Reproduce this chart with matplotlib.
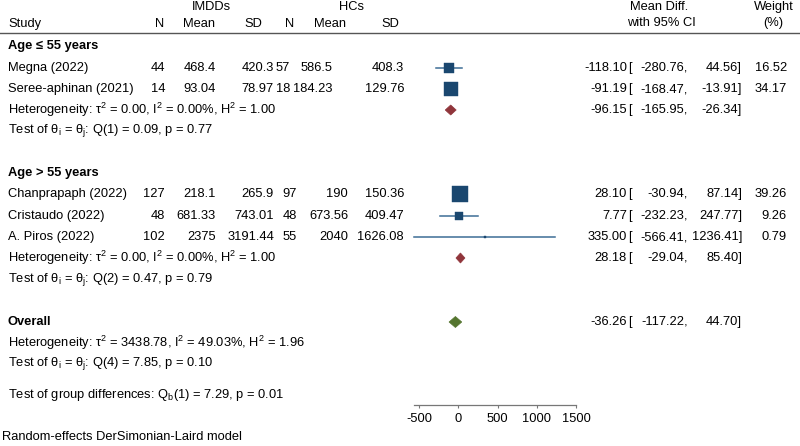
import matplotlib
matplotlib.use("Agg")
import matplotlib.pyplot as plt
import numpy as np

plt.rcParams['font.family'] = ['Liberation Sans', 'DejaVu Sans']
plt.rcParams['mathtext.fontset'] = 'custom'
plt.rcParams['mathtext.rm'] = 'Liberation Sans'
plt.rcParams['mathtext.it'] = 'Liberation Sans'

# ---------------- data ----------------
studies = ["Megna (2022)", "Seree-aphinan (2021)",
           "Chanprapaph (2022)", "Cristaudo (2022)", "A. Piros (2022)"]
study_group = [0, 0, 1, 1, 1]
n_imdd = [44, 14, 127, 48, 102]
mean_imdd = [468.4, 93.04, 218.1, 681.33, 2375]
sd_imdd = [420.3, 78.97, 265.9, 743.01, 3191.44]
n_hc = [57, 18, 97, 48, 55]
mean_hc = [586.5, 184.23, 190, 673.56, 2040]
sd_hc = [408.3, 129.76, 150.36, 409.47, 1626.08]
effect = [-118.10, -91.19, 28.10, 7.77, 335.00]
ci_low = [-280.76, -168.47, -30.94, -232.23, -566.41]
ci_high = [44.56, -13.91, 87.14, 247.77, 1236.41]
weight = [16.52, 34.17, 39.26, 9.26, 0.79]

group_labels = ["Age \u2264 55 years", "Age > 55 years"]
group_effect = [-96.15, 28.18]
group_low = [-165.95, -29.04]
group_high = [-26.34, 85.40]
group_het = [r"Heterogeneity: τ$^\mathregular{2}$ = 0.00, I$^\mathregular{2}$ = 0.00%, H$^\mathregular{2}$ = 1.00",
             r"Heterogeneity: τ$^\mathregular{2}$ = 0.00, I$^\mathregular{2}$ = 0.00%, H$^\mathregular{2}$ = 1.00"]
group_test = [r"Test of θ$_\mathregular{i}$ = θ$_\mathregular{j}$: Q(1) = 0.09, p = 0.77",
              r"Test of θ$_\mathregular{i}$ = θ$_\mathregular{j}$: Q(2) = 0.47, p = 0.79"]

overall_effect = -36.26
overall_low = -117.22
overall_high = 44.70
overall_het = r"Heterogeneity: τ$^\mathregular{2}$ = 3438.78, I$^\mathregular{2}$ = 49.03%, H$^\mathregular{2}$ = 1.96"
overall_test = r"Test of θ$_\mathregular{i}$ = θ$_\mathregular{j}$: Q(4) = 7.85, p = 0.10"
group_diff_test = r"Test of group differences: Q$_\mathregular{b}$(1) = 7.29, p = 0.01"
footnote = "Random-effects DerSimonian-Laird model"

xticks = [-500, 0, 500, 1000, 1500]

# ---------------- layout (pixel coordinates) ----------------
W, H = 800, 446
FS = 9.3
navy = "#1a476f"
ci_col = "#3d6d96"
maroon = "#90353b"
green = "#55752f"

fig = plt.figure(figsize=(W / 100, H / 100), dpi=100)
ax = fig.add_axes([0, 0, 1, 1])
ax.set_xlim(0, W)
ax.set_ylim(H, 0)
ax.axis("off")

# forest axes: pixel x 400..600 maps to data
px_per_unit = 157 / 2000
zero_px = 458.25
fx0, fx1 = 400, 600
fax = fig.add_axes([fx0 / W, 0, (fx1 - fx0) / W, 1])
fax.set_xlim((fx0 - zero_px) / px_per_unit, (fx1 - zero_px) / px_per_unit)
fax.set_ylim(H, 0)
fax.patch.set_visible(False)
for s in ["top", "left", "right"]:
    fax.spines[s].set_visible(False)
fax.spines["bottom"].set_position(("data", 405))
fax.spines["bottom"].set_bounds(min(ci_low), max(xticks))
fax.spines["bottom"].set_color("#777777")
fax.spines["bottom"].set_linewidth(0.9)
fax.set_yticks([])
fax.set_xticks(xticks)
fax.set_xticklabels([str(t) for t in xticks])
fax.tick_params(axis="x", direction="out", length=2.5, width=0.8, color="#777777",
                labelsize=FS, pad=3.2)

def txt(x, y, s, ha="left", bold=False, **kw):
    ax.text(x, y, s, ha=ha, va="center", fontsize=FS,
            fontweight="bold" if bold else "normal", **kw)

# headers
txt(211, 7, "IMDDs", ha="center")
txt(352, 7, "HCs", ha="center")
txt(659, 7, "Mean Diff.", ha="center")
txt(661, 23, "with 95% CI", ha="center")
txt(774, 7, "Weight", ha="center")
txt(773, 23, "(%)", ha="center")
txt(8, 24, "Study")
for hx, hs in [(160, "N"), (199, "Mean"), (253, "SD"), (290, "N"), (330, "Mean"), (390, "SD")]:
    txt(hx, 24, hs, ha="center")
ax.plot([0, W], [32.5, 32.5], color="#555555", lw=1.0)

# column positions (right edges), per group where the original differs
col_n1, col_m1, col_s1, col_s2 = 165, 216, 274, 404
col_n2 = [290, 297]
col_m2 = [333, 348]
col_eff, col_br, col_lo, col_hi, col_w = 627, 628, 688, 742, 787

def ci_text(y, e, lo, hi, w=None):
    txt(col_eff, y, f"{e:.2f}", ha="right")
    txt(col_br, y, "[")
    txt(col_lo, y, f"{lo:.2f},", ha="right")
    txt(col_hi, y, f"{hi:.2f}]", ha="right")
    if w is not None:
        txt(col_w, y, f"{w:.2f}", ha="right")

def diamond(y, e, lo, hi, color, half_h=5):
    fax.fill([lo, e, hi, e], [y, y - half_h, y, y + half_h], color=color,
             edgecolor=color, lw=0.5, zorder=3)

group_rows = [
    dict(head=46, rows=[68, 89], het=110, test=131),
    dict(head=173, rows=[194, 216, 237], het=258, test=279),
]

for g, gl in enumerate(group_rows):
    txt(8, gl["head"], group_labels[g], bold=True)
    idx = [i for i, sg in enumerate(study_group) if sg == g]
    for i, y in zip(idx, gl["rows"]):
        txt(8, y, studies[i])
        txt(col_n1, y, f"{n_imdd[i]}", ha="right")
        txt(col_m1, y, f"{mean_imdd[i]:g}", ha="right")
        txt(col_s1, y, f"{sd_imdd[i]:g}", ha="right")
        txt(col_n2[g], y, f"{n_hc[i]}", ha="right")
        txt(col_m2[g], y, f"{mean_hc[i]:g}", ha="right")
        txt(col_s2, y, f"{sd_hc[i]:g}", ha="right")
        ci_text(y, effect[i], ci_low[i], ci_high[i], weight[i])
        fax.plot([ci_low[i], ci_high[i]], [y, y], color=ci_col, lw=1.1, zorder=2)
        side_pt = 2.4 * np.sqrt(weight[i]) * 0.72
        fax.plot(effect[i], y, marker="s", ms=side_pt, color=navy,
                 markeredgecolor=navy, markeredgewidth=0.3, zorder=3)
    txt(8, gl["het"], group_het[g])
    txt(8, gl["test"], group_test[g])
    ci_text(gl["het"], group_effect[g], group_low[g], group_high[g])
    diamond(gl["het"], group_effect[g], group_low[g], group_high[g], maroon)

# overall
txt(8, 322, "Overall", bold=True)
ci_text(322, overall_effect, overall_low, overall_high)
diamond(322, overall_effect, overall_low, overall_high, green, half_h=5.5)
txt(8, 343, overall_het)
txt(8, 364, overall_test)
txt(8, 395, group_diff_test)
txt(2, 437, footnote)

fig.savefig("out.png", dpi=100)
